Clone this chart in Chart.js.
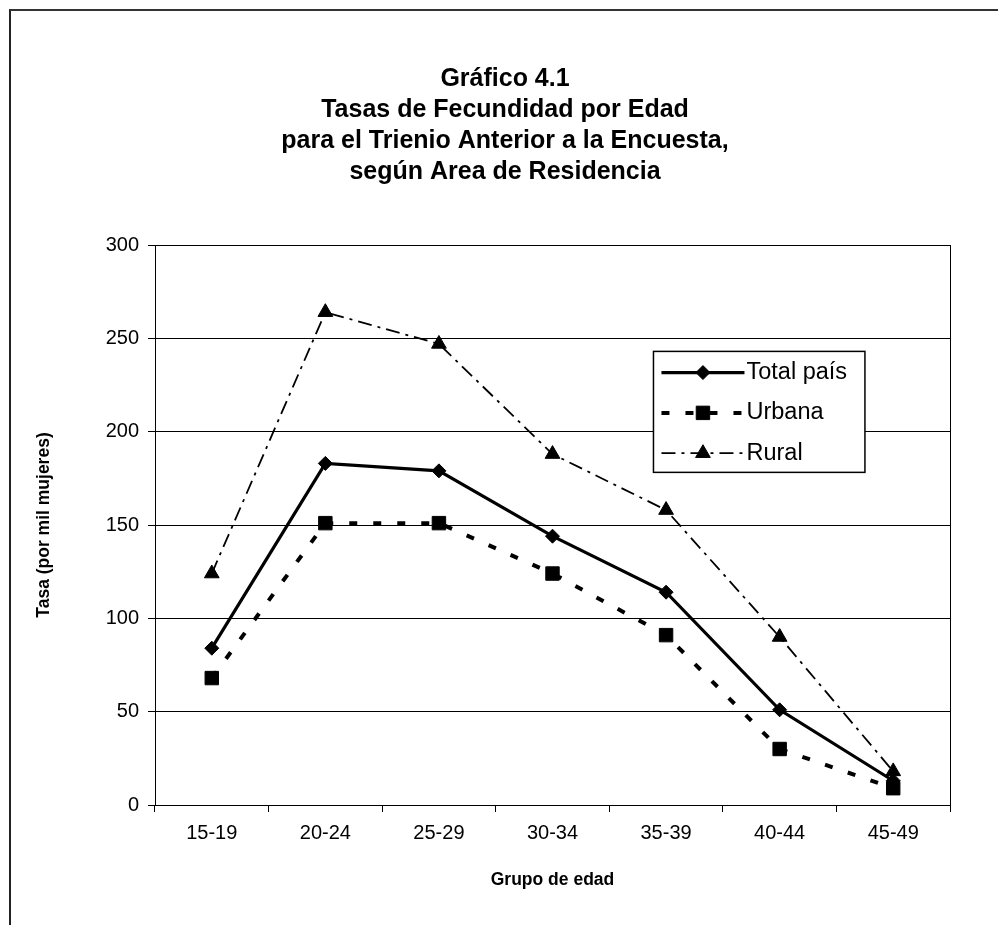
<!DOCTYPE html>
<html><head><meta charset="utf-8">
<script src="https://cdn.jsdelivr.net/npm/chart.js@4.4.1/dist/chart.umd.min.js"></script>
<style>
html,body{margin:0;padding:0;background:#fff;overflow:hidden;width:998px;height:925px}
#frame{position:absolute;left:9px;top:9px;width:1100px;height:1000px;border-top:2px solid #333;border-left:2px solid #222}
#wrap{position:absolute;left:0;top:0;width:1010px;height:925px}
</style></head><body>
<div id="frame"></div>
<div id="wrap"><canvas id="c"></canvas></div>
<script>
const categories = ['15-19','20-24','25-29','30-34','35-39','40-44','45-49'];
const totalPais = [84, 183, 179, 144, 114, 51, 13];
const urbana    = [68, 151, 151, 124, 91, 30, 9];
const rural     = [124, 264, 247, 188, 158, 90, 18];
const yTicks    = [0, 50, 100, 150, 200, 250, 300];
const seriesNames = ['Total país', 'Urbana', 'Rural'];
const titleLines = ['Gráfico 4.1', 'Tasas de Fecundidad por Edad', 'para el Trienio Anterior a la Encuesta,', 'según Area de Residencia'];
const xTitle = 'Grupo de edad';
const yTitle = 'Tasa (por mil mujeres)';

const FONT = "'Liberation Sans', Arial, Helvetica, sans-serif";

const plotBorder = {
  id: 'plotBorder',
  beforeDatasetsDraw(chart) {
    const {ctx, chartArea: a} = chart;
    ctx.save();
    ctx.strokeStyle = '#000';
    ctx.lineWidth = 1;
    ctx.strokeRect(a.left + 0.5, a.top + 0.5, a.right - a.left, a.bottom - a.top);
    ctx.restore();
  }
};

const legendBox = {
  id: 'legendBox',
  afterDatasetsDraw(chart) {
    const {ctx, chartArea: a} = chart;
    const w = a.right - a.left, h = a.bottom - a.top;
    const x0 = a.left + w * 0.627, x1 = a.left + w * 0.893;
    const y0 = a.top + h * 0.190, y1 = a.top + h * 0.406;
    ctx.save();
    ctx.fillStyle = '#fff';
    ctx.fillRect(x0, y0, x1 - x0, y1 - y0);
    ctx.strokeStyle = '#000';
    ctx.lineWidth = 1.5;
    ctx.strokeRect(x0, y0, x1 - x0, y1 - y0);
    const rowH = (y1 - y0) / 3;
    chart.data.datasets.forEach((ds, i) => {
      const y = y0 + rowH * (i + 0.5) + 1;
      const lx0 = x0 + 8, lx1 = x0 + 91;
      ctx.save();
      ctx.strokeStyle = ds.borderColor;
      ctx.lineWidth = ds.borderWidth;
      ctx.setLineDash(ds.borderDash || []);
      ctx.beginPath();
      ctx.moveTo(lx0, y); ctx.lineTo(lx1, y); ctx.stroke();
      ctx.restore();
      ctx.save();
      ctx.fillStyle = ds.pointBackgroundColor;
      ctx.strokeStyle = ds.pointBorderColor;
      ctx.lineWidth = ds.pointBorderWidth;
      Chart.helpers.drawPoint(ctx, {pointStyle: ds.pointStyle, radius: ds.pointRadius, rotation: 0, borderWidth: ds.pointBorderWidth}, (lx0 + lx1) / 2, y);
      ctx.restore();
      ctx.fillStyle = '#000';
      ctx.font = "23.5px " + FONT;
      ctx.textBaseline = 'middle';
      ctx.textAlign = 'left';
      ctx.fillText(ds.label, lx1 + 2, y);
    });
    ctx.restore();
  }
};

new Chart(document.getElementById('c'), {
  type: 'line',
  data: {
    labels: categories,
    datasets: [
      {label: seriesNames[0], data: totalPais, borderColor: '#000', borderWidth: 3.2,
       pointStyle: 'rectRot', pointRadius: 7, pointBackgroundColor: '#000', pointBorderColor: '#000', pointBorderWidth: 1, tension: 0},
      {label: seriesNames[1], data: urbana, borderColor: '#000', borderWidth: 4, borderDash: [8, 16],
       pointStyle: 'rect', pointRadius: 9.5, pointBackgroundColor: '#000', pointBorderColor: '#000', pointBorderWidth: 1, tension: 0},
      {label: seriesNames[2], data: rural, borderColor: '#000', borderWidth: 1.8, borderDash: [14, 6, 3, 6],
       pointStyle: 'triangle', pointRadius: 8.5, pointBackgroundColor: '#000', pointBorderColor: '#000', pointBorderWidth: 1, tension: 0}
    ]
  },
  options: {
    responsive: true,
    maintainAspectRatio: false,
    animation: false,
    events: [],
    layout: {padding: {left: 0, right: 0, top: 0, bottom: 0}},
    plugins: {
      legend: {display: false},
      tooltip: {enabled: false},
      title: {
        display: true,
        text: titleLines,
        color: '#000',
        font: {family: FONT, size: 25, weight: 'bold', lineHeight: '31px'},
        padding: {top: 64, bottom: 57}
      }
    },
    scales: {
      x: {
        offset: true,
        grid: {display: true, drawOnChartArea: false, drawTicks: true, tickLength: 7, color: '#000', offset: true},
        border: {display: true, color: '#000', width: 1},
        ticks: {color: '#000', font: {family: FONT, size: 20}, padding: 9, maxRotation: 0},
        title: {display: true, text: xTitle, color: '#000', font: {family: FONT, size: 17.5, weight: 'bold'}, padding: {top: 0, bottom: 34}},
        afterFit(s) { s.height = 120; }
      },
      y: {
        min: 0, max: 300,
        afterBuildTicks(s) { s.ticks = yTicks.map(v => ({value: v})); },
        grid: {color: '#000', lineWidth: 1, tickLength: 7, drawTicks: true},
        border: {display: true, color: '#000', width: 1},
        ticks: {color: '#000', font: {family: FONT, size: 20}, padding: 9},
        title: {display: true, text: yTitle, color: '#000', font: {family: FONT, size: 17.5, weight: 'bold'}, padding: {top: 34, bottom: 0}},
        afterFit(s) { s.width = 155; }
      },
      yRight: {
        position: 'right',
        display: true,
        min: 0, max: 300,
        grid: {display: false, drawOnChartArea: false},
        border: {display: false},
        ticks: {display: false},
        afterFit(s) { s.width = 60; }
      }
    }
  },
  plugins: [plotBorder, legendBox]
});
</script>
</body></html>
